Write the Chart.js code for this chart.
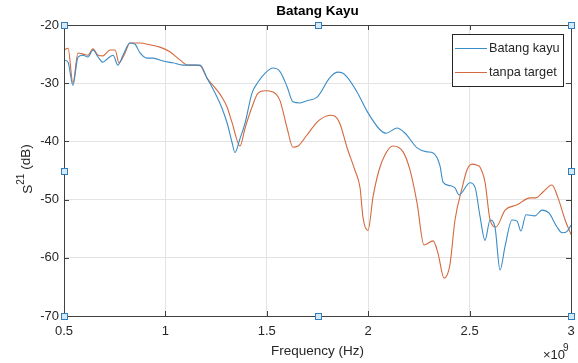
<!DOCTYPE html>
<html>
<head>
<meta charset="utf-8">
<script src="https://cdn.jsdelivr.net/npm/chart.js@4/dist/chart.umd.min.js"></script>
<style>
  html, body { margin: 0; padding: 0; background: #ffffff; }
  #wrap { width: 578px; height: 363px; position: relative; }
</style>
</head>
<body>
<div id="wrap"><canvas id="c" width="578" height="363"></canvas></div>
<script>
// Frequency in GHz (axis shown with a x10^9 multiplier), S21 in dB
const freqKayu = [0.500,0.520,0.544,0.569,0.594,0.618,0.643,0.668,0.692,0.717,0.742,0.766,0.791,0.825,0.850,0.875,0.909,0.939,0.988,1.037,1.087,1.146,1.171,1.205,1.245,1.279,1.304,1.328,1.343,1.368,1.393,1.427,1.457,1.491,1.531,1.565,1.600,1.629,1.664,1.698,1.748,1.812,1.851,1.871,1.895,1.945,1.994,2.058,2.088,2.142,2.182,2.241,2.290,2.320,2.354,2.369,2.403,2.428,2.448,2.502,2.527,2.551,2.576,2.601,2.625,2.650,2.675,2.709,2.734,2.753,2.778,2.822,2.857,2.891,2.931,2.956,2.980,3.000];
const s21Kayu = [-26.0,-26.4,-30.4,-25.5,-25.2,-25.5,-24.3,-25.5,-26.4,-25.7,-25.2,-26.9,-25.2,-23.1,-23.3,-24.8,-25.7,-25.7,-26.2,-26.5,-26.9,-26.9,-26.9,-29.1,-31.7,-34.3,-36.8,-40.1,-41.9,-39.5,-36.8,-31.7,-29.8,-28.3,-27.4,-28.0,-30.6,-33.2,-33.4,-33.0,-32.4,-29.0,-28.1,-28.2,-28.9,-31.5,-34.8,-38.0,-38.6,-37.7,-38.6,-41.1,-41.8,-42.0,-44.2,-47.0,-47.6,-48.0,-49.2,-47.1,-47.9,-52.8,-57.0,-53.5,-54.7,-62.1,-58.0,-53.5,-53.7,-55.4,-52.6,-52.8,-51.8,-52.3,-54.7,-55.7,-55.5,-54.4];

const freqTanpa = [0.500,0.520,0.544,0.569,0.594,0.618,0.643,0.668,0.692,0.727,0.752,0.771,0.801,0.825,0.875,0.924,0.973,1.022,1.072,1.111,1.146,1.171,1.205,1.245,1.279,1.304,1.328,1.368,1.393,1.427,1.457,1.491,1.531,1.565,1.600,1.629,1.654,1.698,1.748,1.773,1.812,1.832,1.861,1.895,1.935,1.960,1.974,1.999,2.024,2.053,2.083,2.122,2.172,2.206,2.241,2.275,2.320,2.344,2.374,2.403,2.428,2.463,2.487,2.512,2.537,2.551,2.576,2.601,2.630,2.675,2.734,2.798,2.827,2.862,2.906,2.936,2.971,3.000];
const s21Tanpa = [-24.3,-24.0,-30.0,-24.8,-25.0,-25.2,-24.1,-25.2,-25.3,-24.3,-24.3,-26.5,-24.8,-23.1,-23.1,-23.4,-23.8,-24.6,-26.0,-26.9,-26.9,-27.0,-29.1,-30.8,-32.4,-34.1,-36.7,-40.8,-37.7,-34.1,-31.7,-31.3,-31.5,-33.0,-37.7,-41.0,-40.8,-38.9,-36.7,-36.0,-35.5,-35.6,-37.0,-41.0,-45.0,-48.0,-53.0,-55.3,-49.5,-45.0,-42.3,-40.8,-41.8,-44.9,-50.6,-57.8,-57.1,-59.2,-63.5,-61.2,-53.5,-48.0,-44.9,-43.9,-44.1,-44.4,-47.0,-53.5,-54.7,-51.8,-50.9,-49.7,-49.7,-48.7,-47.5,-49.7,-53.5,-56.0];

const seriesNames = ['Batang kayu', 'tanpa target'];
const xTicks = [0.5, 1, 1.5, 2, 2.5, 3];
const yTicks = [-70, -60, -50, -40, -30, -20];

const BLUE = '#3a8cc6';
const ORANGE = '#d4693d';
const AXIS = '#404040';
const TEXT = '#262626';
const FONT = '"Liberation Sans", Arial, sans-serif';

function toPoints(xs, ys) { return xs.map((x, i) => ({ x: x, y: ys[i] })); }

// Box, inward ticks, handles, titles and legend, MATLAB figure style
const figureDecor = {
  id: 'figureDecor',
  afterDraw(chart) {
    const ctx = chart.ctx;
    const a = chart.chartArea;
    const xs = chart.scales.x, ys = chart.scales.y;
    ctx.save();
    // axes box
    ctx.strokeStyle = AXIS;
    ctx.lineWidth = 1;
    ctx.beginPath();
    ctx.rect(Math.round(a.left) + 0.5, Math.round(a.top) + 0.5, Math.round(a.right - a.left), Math.round(a.bottom - a.top));
    ctx.stroke();
    // inward tick marks
    ctx.beginPath();
    xTicks.forEach(v => {
      const px = Math.round(xs.getPixelForValue(v)) + 0.5;
      ctx.moveTo(px, a.bottom); ctx.lineTo(px, a.bottom - 5);
      ctx.moveTo(px, a.top); ctx.lineTo(px, a.top + 5);
    });
    yTicks.forEach(v => {
      const py = Math.round(ys.getPixelForValue(v)) + 0.5;
      ctx.moveTo(a.left, py); ctx.lineTo(a.left + 5, py);
      ctx.moveTo(a.right, py); ctx.lineTo(a.right - 5, py);
    });
    ctx.stroke();

    // selection handles on the axes box
    const midX = (a.left + a.right) / 2, midY = (a.top + a.bottom) / 2;
    const handles = [[a.left, a.top], [midX, a.top], [a.right, a.top],
                     [a.left, midY], [a.right, midY],
                     [a.left, a.bottom], [midX, a.bottom], [a.right, a.bottom]];
    handles.forEach(([hx, hy]) => {
      ctx.fillStyle = '#d7e9f7';
      ctx.strokeStyle = '#2f7fc0';
      ctx.fillRect(Math.round(hx) - 3, Math.round(hy) - 3, 6, 6);
      ctx.strokeRect(Math.round(hx) - 2.5, Math.round(hy) - 2.5, 6, 6);
    });

    // title
    ctx.fillStyle = '#000000';
    ctx.font = 'bold 13.5px ' + FONT;
    ctx.textAlign = 'center';
    ctx.textBaseline = 'middle';
    ctx.fillText('Batang Kayu', midX, 11);

    // x axis title and multiplier
    ctx.fillStyle = TEXT;
    ctx.font = '13.5px ' + FONT;
    ctx.fillText('Frequency (Hz)', midX, 351);
    ctx.textAlign = 'left';
    ctx.font = '13px ' + FONT;
    ctx.fillText('\u00d710', 543, 355);
    ctx.font = '10px ' + FONT;
    ctx.fillText('9', 563, 348);

    // y axis title with superscript
    ctx.save();
    ctx.translate(26, 169);
    ctx.rotate(-Math.PI / 2);
    ctx.textAlign = 'left';
    ctx.textBaseline = 'middle';
    ctx.font = '13.5px ' + FONT;
    const sW = ctx.measureText('S').width;
    ctx.font = '10px ' + FONT;
    const supW = ctx.measureText('21').width;
    ctx.font = '13.5px ' + FONT;
    const restW = ctx.measureText(' (dB)').width;
    let tx = -(sW + supW + restW) / 2;
    ctx.fillText('S', tx, 2);
    tx += sW;
    ctx.font = '10px ' + FONT;
    ctx.fillText('21', tx, -5);
    tx += supW;
    ctx.font = '13.5px ' + FONT;
    ctx.fillText(' (dB)', tx, 0);
    ctx.restore();

    // legend
    const lx = 452, ly = 34, lw = 111, lh = 52;
    ctx.fillStyle = '#ffffff';
    ctx.fillRect(lx, ly, lw, lh);
    ctx.strokeStyle = '#262626';
    ctx.lineWidth = 1;
    ctx.strokeRect(lx + 0.5, ly + 0.5, lw, lh);
    const colors = [BLUE, ORANGE];
    const rows = [48, 72];
    ctx.font = '12.7px ' + FONT;
    ctx.textAlign = 'left';
    ctx.textBaseline = 'middle';
    seriesNames.forEach((name, i) => {
      ctx.strokeStyle = colors[i];
      ctx.beginPath();
      ctx.moveTo(455, rows[i] + 0.5);
      ctx.lineTo(487, rows[i] + 0.5);
      ctx.stroke();
      ctx.fillStyle = TEXT;
      ctx.fillText(name, 489, rows[i]);
    });
    ctx.restore();
  }
};

new Chart(document.getElementById('c'), {
  type: 'line',
  data: {
    datasets: [
      { label: seriesNames[0], data: toPoints(freqKayu, s21Kayu), borderColor: BLUE, borderWidth: 1.1,
        pointRadius: 0, fill: false, cubicInterpolationMode: 'monotone' },
      { label: seriesNames[1], data: toPoints(freqTanpa, s21Tanpa), borderColor: ORANGE, borderWidth: 1.1,
        pointRadius: 0, fill: false, cubicInterpolationMode: 'monotone' }
    ]
  },
  options: {
    responsive: false,
    animation: false,
    events: [],
    layout: { padding: { top: 25, right: 7, bottom: 0, left: 0 } },
    plugins: { legend: { display: false }, title: { display: false }, tooltip: { enabled: false } },
    scales: {
      x: {
        type: 'linear', min: 0.5, max: 3,
        afterBuildTicks: s => { s.ticks = xTicks.map(v => ({ value: v })); },
        afterFit: s => { s.height = 47; s.paddingLeft = 0; s.paddingRight = 0; },
        grid: { color: '#e3e3e3', drawTicks: false },
        border: { display: false },
        ticks: { padding: 8, color: TEXT, font: { family: FONT, size: 13 }, maxRotation: 0,
                 callback: v => String(v) }
      },
      y: {
        type: 'linear', min: -70, max: -20,
        afterBuildTicks: s => { s.ticks = yTicks.map(v => ({ value: v })); },
        afterFit: s => { s.width = 64; s.paddingTop = 0; s.paddingBottom = 0; },
        grid: { color: '#e3e3e3', drawTicks: false },
        border: { display: false },
        ticks: { padding: 5, color: TEXT, font: { family: FONT, size: 13 },
                 callback: v => String(v) }
      }
    }
  },
  plugins: [figureDecor]
});
</script>
</body>
</html>
